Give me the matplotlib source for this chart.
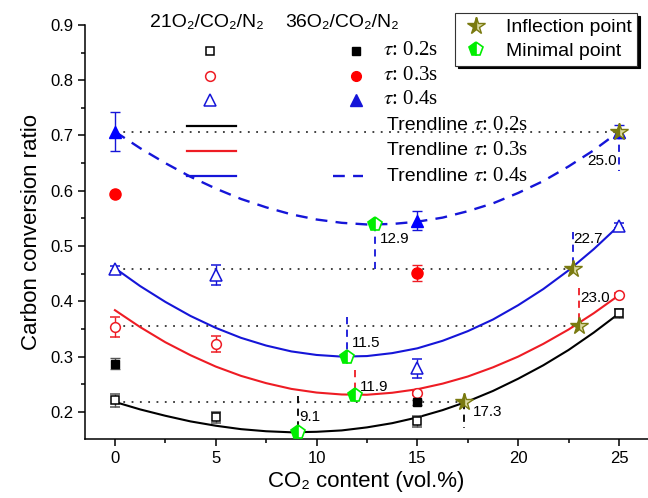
import numpy as np
import matplotlib
matplotlib.use("Agg")
import matplotlib.pyplot as plt
from matplotlib.lines import Line2D

plt.rcParams['font.family'] = ['Liberation Sans', 'DejaVu Sans']
plt.rcParams['mathtext.fontset'] = 'stix'

# measured points, 21O2/CO2/N2 (open) and 36O2/CO2/N2 (filled)
x_open = [0, 5, 15, 25]
open_02 = [0.221, 0.190, 0.183, 0.378]
open_02_err = [0.012, 0.010, 0.010, 0.008]
open_03 = [0.354, 0.323, 0.234, 0.411]
open_03_err = [0.018, 0.014, 0.004, 0.004]
open_04 = [0.459, 0.448, 0.279, 0.537]
open_04_err = [0.005, 0.018, 0.017, 0.004]

x_fill = [0, 15]
fill_02 = [0.287, 0.217]
fill_02_err = [0.010, 0.005]
fill_03 = [0.595, 0.451]
fill_03_err = [0.0, 0.015]
x_fill_04 = [0, 15, 25]
fill_04 = [0.707, 0.546, 0.707]
fill_04_err = [0.035, 0.017, 0.012]

# trendlines
trend_x = [0, 1.25, 2.5, 3.75, 5, 6.25, 7.5, 8.75, 10, 11.25, 12.5,
           13.75, 15, 16.25, 17.5, 18.75, 20, 21.25, 22.5, 23.75, 25]
trend_02 = [0.218, 0.2045, 0.193, 0.1828, 0.175, 0.1688, 0.165, 0.1631, 0.164, 0.1665, 0.172,
            0.1796, 0.190, 0.2032, 0.219, 0.2379, 0.260, 0.2844, 0.312, 0.3435, 0.378]
trend_03 = [0.384, 0.3534, 0.326, 0.3025, 0.282, 0.2652, 0.252, 0.2416, 0.235, 0.2315, 0.231,
            0.2346, 0.241, 0.2511, 0.264, 0.2806, 0.300, 0.3231, 0.349, 0.3785, 0.411]
trend_04 = [0.460, 0.4276, 0.399, 0.3735, 0.352, 0.334, 0.320, 0.3094, 0.303, 0.300, 0.301,
            0.3063, 0.315, 0.3286, 0.346, 0.3671, 0.393, 0.4223, 0.456, 0.4944, 0.537]
trend_04_36 = [0.707, 0.677, 0.650, 0.6253, 0.604, 0.5852, 0.570, 0.5573, 0.548, 0.542, 0.539,
               0.5399, 0.544, 0.5514, 0.563, 0.5772, 0.596, 0.6176, 0.644, 0.6733, 0.707]

# minimal / inflection points
min_x = [9.1, 11.9, 11.5, 12.9]
min_y = [0.164, 0.231, 0.300, 0.539]
min_lbl = ['9.1', '11.9', '11.5', '12.9']
infl_x = [17.3, 23.0, 22.7, 25.0]
infl_y = [0.217, 0.356, 0.459, 0.707]
infl_lbl = ['17.3', '23.0', '22.7', '25.0']

# horizontal reference levels (start at 0, end at inflection point)
ref_y = [0.217, 0.356, 0.459, 0.707]
ref_end = [17.3, 23.0, 22.7, 25.0]

# vertical drop marks: x, top, bottom, colour
drop_x = [9.1, 11.9, 11.5, 12.9, 17.3, 23.0, 22.7, 25.0]
drop_top = [0.228, 0.275, 0.372, 0.539, 0.217, 0.424, 0.526, 0.707]
drop_bot = [0.165, 0.232, 0.300, 0.459, 0.170, 0.356, 0.459, 0.635]
drop_col = ['k', 'red', 'blue', 'blue', 'k', 'red', 'blue', 'blue']

RED = '#ee1c24'
BLUE = '#1515d8'
GREEN = '#00ee00'
OLIVE = '#7a7a10'

fig = plt.figure(figsize=(6.48, 4.98), dpi=100)
ax = fig.add_axes([0.131, 0.1185, 0.869, 0.8315])

# dotted reference lines
for y, xe in zip(ref_y, ref_end):
    ax.plot([0, xe], [y, y], color='#333333', lw=1.3, dashes=(1, 3.6), zorder=1)

for x, t, b, c in zip(drop_x, drop_top, drop_bot, drop_col):
    ax.plot([x, x], [t, b], color=RED if c == 'red' else (BLUE if c == 'blue' else c),
            lw=1.3, dashes=(4, 3), zorder=2)

# trendlines
ax.plot(trend_x, trend_02, color='k', lw=1.5, zorder=3)
ax.plot(trend_x, trend_03, color=RED, lw=1.5, zorder=3)
ax.plot(trend_x, trend_04, color=BLUE, lw=1.5, zorder=3)
ax.plot(trend_x, trend_04_36, color=BLUE, lw=1.7, dashes=(5, 3.5), zorder=3)

ekw = dict(ls='none', capsize=3.5, elinewidth=1, capthick=1, zorder=4)
ax.errorbar(x_open, open_02, yerr=open_02_err, marker='s', ms=6, mfc='white', mec='k', mew=1.1, ecolor='#555555', **ekw)
ax.errorbar(x_open, open_03, yerr=open_03_err, marker='o', ms=7, mfc='white', mec=RED, mew=1.1, ecolor=RED, **ekw)
ax.errorbar(x_open, open_04, yerr=open_04_err, marker='^', ms=8, mfc='white', mec=BLUE, mew=1.1, ecolor=BLUE, **ekw)
ax.errorbar(x_fill, fill_02, yerr=fill_02_err, marker='s', ms=6, color='k', ecolor='#555555', **ekw)
ax.errorbar(x_fill, fill_03, yerr=fill_03_err, marker='o', ms=8, color='red', ecolor=RED, **ekw)
ax.errorbar(x_fill_04, fill_04, yerr=fill_04_err, marker='^', ms=9, color='blue', ecolor=BLUE, **ekw)

# special points
ax.plot(min_x, min_y, ls='none', marker='p', ms=10, mfc=GREEN, mfcalt='white',
        fillstyle='left', mec=GREEN, mew=1.2, zorder=6)
ax.plot(infl_x, infl_y, ls='none', marker='*', ms=13, mfc=OLIVE, mfcalt='#d9d9a0',
        fillstyle='left', mec=OLIVE, mew=1, zorder=6)

lbl_off = [(0.05, 0.027), (0.25, 0.014), (0.25, 0.025), (0.25, -0.026)]
for x, y, s, (dx, dy) in zip(min_x, min_y, min_lbl, lbl_off):
    ax.text(x + dx, y + dy, s, fontsize=11, va='center', ha='left', zorder=7)
infl_off = [(0.45, -0.017), (0.1, 0.05), (0.05, 0.054), (-0.1, -0.053)]
for x, y, s, (dx, dy) in zip(infl_x, infl_y, infl_lbl, infl_off):
    ax.text(x + dx, y + dy, s, fontsize=11, va='center',
            ha='right' if x >= 25 else 'left', zorder=7)

# axes styling
ax.set_xlim(-1.49, 26.44)
ax.set_ylim(0.151, 0.9)
ax.spines['top'].set_visible(False)
ax.spines['right'].set_visible(False)
for sp in ['left', 'bottom']:
    ax.spines[sp].set_linewidth(1.1)
ax.set_xticks([0, 5, 10, 15, 20, 25])
ax.set_xticks(np.arange(2.5, 26, 5), minor=True)
ax.set_yticks(np.arange(0.2, 0.95, 0.1))
ax.set_yticks(np.arange(0.25, 0.9, 0.1), minor=True)
ax.yaxis.set_major_formatter(matplotlib.ticker.FormatStrFormatter('%.1f'))
ax.tick_params(which='major', direction='out', length=5, width=1.1, labelsize=12)
ax.tick_params(which='minor', direction='out', length=3, width=1.1)
ax.set_xlabel('CO\u2082 content (vol.%)', fontsize=16, labelpad=4)
ax.set_ylabel('Carbon conversion ratio', fontsize=16, labelpad=6)

# custom legend block (axes coords)
tA = ax.transAxes
ax.text(0.1155, 1.007, '21O\u2082/CO\u2082/N\u2082', transform=tA, fontsize=14, va='center', clip_on=False)
ax.text(0.355, 1.007, '36O\u2082/CO\u2082/N\u2082', transform=tA, fontsize=14, va='center', clip_on=False)
rows_y = [0.938, 0.877, 0.819]
mk = ['s', 'o', '^']
ms_ = [6, 7, 8]
cols = ['k', RED, BLUE]
taus = ['0.2s', '0.3s', '0.4s']
for y, m, s, c, t in zip(rows_y, mk, ms_, cols, taus):
    ax.plot([0.222], [y], transform=tA, marker=m, ms=s, mfc='white', mec=c, mew=1.1, clip_on=False)
    ax.plot([0.481], [y], transform=tA, marker=m, ms=s, color=c if c != RED else 'red', clip_on=False)
    ax.text(0.529, y, r'$\tau$: ' + t, transform=tA, fontsize=15, va='center',
            family=['Liberation Serif', 'DejaVu Serif'])
trend_rows = [0.756, 0.696, 0.634]
for y, c, t in zip(trend_rows, cols, taus):
    ax.plot([0.182, 0.268], [y, y], transform=tA, color=c, lw=1.6)
    t1 = ax.text(0.536, y, 'Trendline ', transform=tA, fontsize=14, va='center')
    ax.annotate(r'$\tau$: ' + t, xy=(1, 0.5), xycoords=t1, va='center', fontsize=15,
                family=['Liberation Serif', 'DejaVu Serif'])
ax.plot([0.44, 0.494], [0.634, 0.634], transform=tA, color=BLUE, lw=1.7, dashes=(5, 3.5))

h1 = Line2D([], [], ls='none', marker='*', ms=13, mfc=OLIVE, mfcalt='#d9d9a0', fillstyle='left', mec=OLIVE)
h2 = Line2D([], [], ls='none', marker='p', ms=10, mfc=GREEN, mfcalt='white', fillstyle='left', mec=GREEN, mew=1.2)
leg = fig.legend([h1, h2], ['Inflection point', 'Minimal point'], loc='upper left',
                 bbox_to_anchor=(455 / 648, 1 - 13 / 498), fontsize=14, frameon=True,
                 fancybox=False, shadow={'color': 'black', 'alpha': 1}, edgecolor='#333333',
                 borderpad=0.3, labelspacing=0.3, handletextpad=0.7, handlelength=1.6,
                 borderaxespad=0)
leg.get_frame().set_linewidth(0.8)

fig.savefig('out.png', dpi=100)
